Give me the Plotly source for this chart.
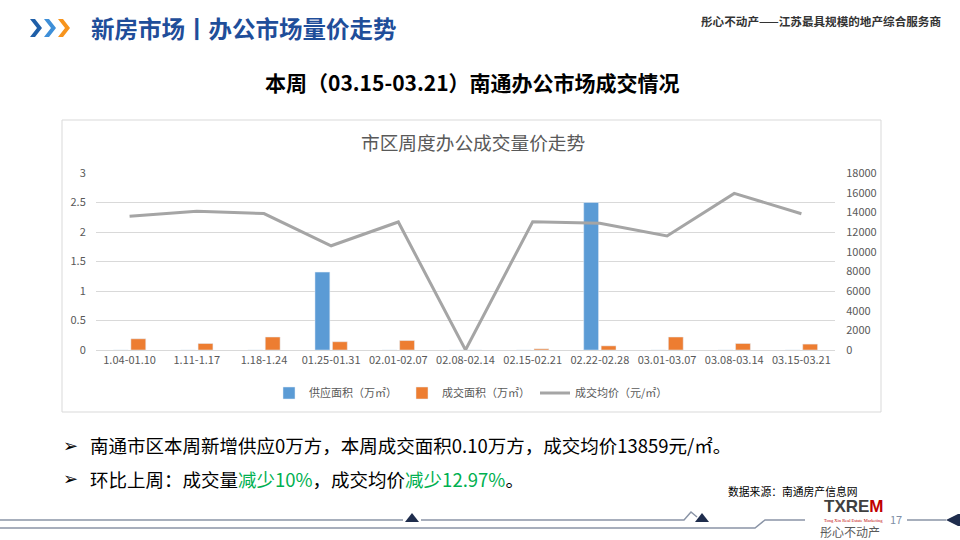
import plotly.graph_objects as go

categories = ["1.04-01.10", "1.11-1.17", "1.18-1.24", "01.25-01.31", "02.01-02.07",
              "02.08-02.14", "02.15-02.21", "02.22-02.28", "03.01-03.07", "03.08-03.14",
              "03.15-03.21"]
supply_area = [0, 0, 0, 1.32, 0, 0, 0, 2.5, 0, 0, 0]
deal_area = [0.19, 0.11, 0.22, 0.14, 0.16, 0, 0.02, 0.07, 0.22, 0.11, 0.10]
avg_price = [13600, 14100, 13870, 10600, 13020, 0, 13050, 12880, 11600, 15924, 13859]
left_ticks = [0, 0.5, 1, 1.5, 2, 2.5, 3]
left_tick_text = ["0", "0.5", "1", "1.5", "2", "2.5", "3"]
right_ticks = [0, 2000, 4000, 6000, 8000, 10000, 12000, 14000, 16000, 18000]
right_tick_text = ["0", "2000", "4000", "6000", "8000", "10000", "12000", "14000",
                   "16000", "18000"]

W, H = 960, 540
PL, PR, PT, PB = 96, 835, 173, 350
FONT = "Noto Sans CJK SC"


def px(x):
    return (x - PL) / (PR - PL)


def py(y):
    return (PB - y) / (PB - PT)


fig = go.Figure()
fig.add_trace(go.Bar(x=categories, y=supply_area, name="供应面积（万㎡）",
                     marker_color="#5B9BD5", yaxis="y"))
fig.add_trace(go.Bar(x=categories, y=deal_area, name="成交面积（万㎡）",
                     marker_color="#ED7D31", yaxis="y"))
fig.add_trace(go.Scatter(x=categories, y=avg_price, name="成交均价（元/㎡）",
                         mode="lines", line=dict(color="#A5A5A5", width=3),
                         yaxis="y2"))

shapes = []
# chart border
shapes.append(dict(type="rect", xref="paper", yref="paper",
                   x0=px(62), x1=px(881), y0=py(120), y1=py(412),
                   line=dict(color="#D9D9D9", width=1), fillcolor="rgba(0,0,0,0)",
                   layer="below"))


def chevron(x0, color):
    pts = [(x0, 19), (x0 + 5, 19), (x0 + 12, 28), (x0 + 5, 37), (x0, 37), (x0 + 7, 28)]
    path = "M " + " L ".join(f"{px(a)},{py(b)}" for a, b in pts) + " Z"
    return dict(type="path", xref="paper", yref="paper", path=path,
                fillcolor=color, line=dict(width=0))


shapes.append(chevron(30, "#1F5FA8"))
shapes.append(chevron(44, "#3E8FD8"))
shapes.append(chevron(58, "#F7941D"))


def pline(pts, color="#8A94A6", width=1.5):
    path = "M " + " L ".join(f"{px(a)},{py(b)}" for a, b in pts)
    return dict(type="path", xref="paper", yref="paper", path=path,
                line=dict(color=color, width=width))


def tri(cx, cy, color="#1F2D4D"):
    pts = [(cx - 7, cy + 4), (cx + 7, cy + 4), (cx, cy - 5)]
    path = "M " + " L ".join(f"{px(a)},{py(b)}" for a, b in pts) + " Z"
    return dict(type="path", xref="paper", yref="paper", path=path,
                fillcolor=color, line=dict(width=0))


# footer decoration
shapes.append(pline([(0, 520), (403, 520)]))
shapes.append(pline([(421, 520), (684, 520), (691, 512), (697, 517)]))
shapes.append(pline([(0, 528), (755, 528), (765, 520), (805, 520)]))
shapes.append(pline([(907, 520), (946, 520)]))
shapes.append(tri(412, 518))
shapes.append(tri(702, 518))
diamond = [(946, 520), (958, 514), (960, 514), (960, 526), (958, 526)]
shapes.append(dict(type="path", xref="paper", yref="paper",
                   path="M " + " L ".join(f"{px(a)},{py(b)}" for a, b in diamond) + " Z",
                   fillcolor="#1F2D4D", line=dict(width=0)))

ann = []
ann.append(dict(text="<b>新房市场丨办公市场量价走势</b>", x=px(89), y=py(28), xanchor="left",
                yanchor="middle", showarrow=False, xref="paper", yref="paper",
                font=dict(family=FONT, size=23.5, color="#1F4E9A")))
ann.append(dict(text="<b>彤心不动产——江苏最具规模的地产综合服务商</b>", x=px(943), y=py(21),
                xanchor="right", yanchor="middle", showarrow=False, xref="paper", yref="paper",
                font=dict(family=FONT, size=11.6, color="#333333")))
ann.append(dict(text="<b>本周（03.15-03.21）南通办公市场成交情况</b>", x=px(472), y=py(82),
                xanchor="center", yanchor="middle", showarrow=False, xref="paper", yref="paper",
                font=dict(family=FONT, size=21, color="#000000")))
ann.append(dict(text="市区周度办公成交量价走势", x=px(473), y=py(141.5), xanchor="center",
                yanchor="middle", showarrow=False, xref="paper", yref="paper",
                font=dict(family=FONT, size=18.7, color="#595959")))
ann.append(dict(text="<b>➢</b>", x=px(61), y=py(445), xanchor="left", yanchor="middle",
                showarrow=False, xref="paper", yref="paper",
                font=dict(family="DejaVu Sans", size=18, color="#000000")))
ann.append(dict(text="<b>➢</b>", x=px(61), y=py(479), xanchor="left", yanchor="middle",
                showarrow=False, xref="paper", yref="paper",
                font=dict(family="DejaVu Sans", size=18, color="#000000")))
ann.append(dict(text="南通市区本周新增供应0万方，本周成交面积0.10万方，成交均价13859元/㎡。",
                x=px(88), y=py(445), xanchor="left", yanchor="middle", showarrow=False,
                xref="paper", yref="paper", font=dict(family=FONT, size=18.5, color="#000000")))
ann.append(dict(text="环比上周：成交量<span style='color:#00B050'>减少10%</span>，成交均价"
                     "<span style='color:#00B050'>减少12.97%</span>。",
                x=px(88), y=py(479), xanchor="left", yanchor="middle", showarrow=False,
                xref="paper", yref="paper", font=dict(family=FONT, size=18.5, color="#000000")))
ann.append(dict(text="数据来源：南通房产信息网", x=px(726), y=py(491), xanchor="left",
                yanchor="middle", showarrow=False, xref="paper", yref="paper",
                font=dict(family=FONT, size=10.8, color="#000000")))
ann.append(dict(text="<b>TXRE<span style='color:#C00000'>M</span></b>", x=px(854), y=py(506),
                xanchor="center", yanchor="middle", showarrow=False, xref="paper", yref="paper",
                font=dict(family="Liberation Sans", size=17, color="#404040")))
ann.append(dict(text="Tong Xin Real Estate Marketing", x=px(853), y=py(520),
                xanchor="center", yanchor="middle", showarrow=False, xref="paper", yref="paper",
                font=dict(family="Liberation Serif", size=4.5, color="#C00000")))
ann.append(dict(text="彤心不动产", x=px(850), y=py(531), xanchor="center", yanchor="middle",
                showarrow=False, xref="paper", yref="paper",
                font=dict(family=FONT, size=12, color="#595959")))
ann.append(dict(text="17", x=px(896), y=py(519), xanchor="center", yanchor="middle",
                showarrow=False, xref="paper", yref="paper",
                font=dict(family=FONT, size=11, color="#7F8FA6")))

fig.update_layout(
    width=W, height=H,
    margin=dict(l=PL, r=W - PR, t=PT, b=H - PB, pad=0),
    paper_bgcolor="white", plot_bgcolor="white",
    font=dict(family=FONT, size=11, color="#595959"),
    barmode="group", bargap=0.48, bargroupgap=0.15,
    xaxis=dict(type="category", showgrid=False, showline=True, linecolor="#D9D9D9",
               ticks="", tickfont=dict(size=11, color="#595959"), fixedrange=True),
    yaxis=dict(range=[0, 3], tickvals=left_ticks, ticktext=left_tick_text,
               showgrid=True, gridcolor="#D9D9D9", zeroline=False, showline=False,
               ticks="outside", ticklen=7, tickcolor="rgba(0,0,0,0)",
               tickfont=dict(size=11, color="#595959")),
    yaxis2=dict(range=[0, 18000], tickvals=right_ticks, ticktext=right_tick_text,
                overlaying="y", side="right",
                showgrid=False, zeroline=False, showline=False,
                ticks="outside", ticklen=8, tickcolor="rgba(0,0,0,0)",
                tickfont=dict(size=11, color="#595959")),
    legend=dict(orientation="h", x=px(471), xanchor="center", y=py(393), yanchor="middle",
                font=dict(size=11, color="#595959"), bgcolor="rgba(0,0,0,0)",
                traceorder="normal", itemwidth=30),
    shapes=shapes, annotations=ann, showlegend=True,
)

fig.write_html("out.html", config={"displayModeBar": False},
               post_script="document.body.style.margin='0';document.body.style.padding='0';")
